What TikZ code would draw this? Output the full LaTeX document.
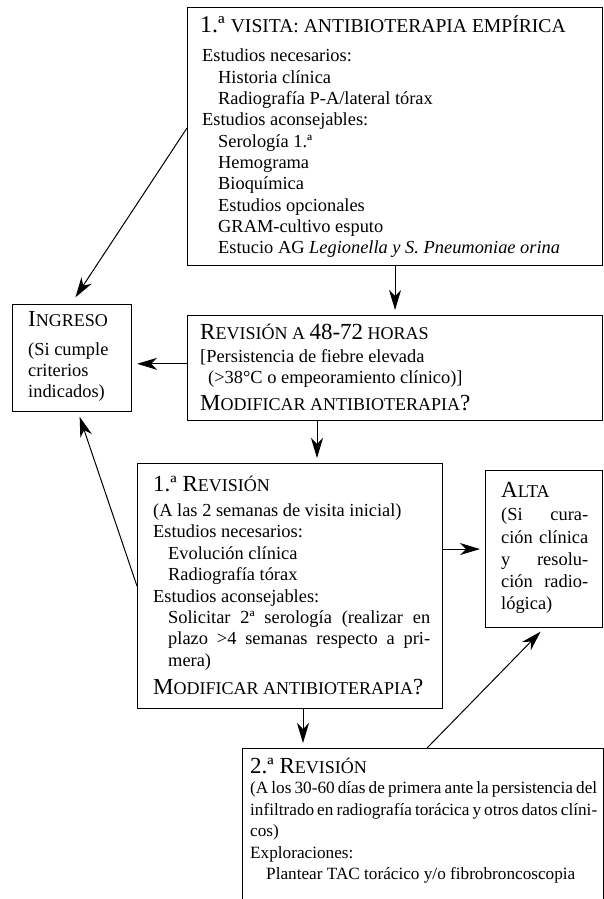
\documentclass[tikz,border=0pt]{standalone}
\usepackage{fontspec}
\setmainfont{Liberation Serif}
\usetikzlibrary{arrows.meta,calc}
\newcommand{\mybig}[1]{{\fontsize{23}{26}\selectfont #1}}
\newcommand{\mysc}[1]{{\fontsize{18}{21}\selectfont #1}}
\newcommand{\bodyfont}{\fontsize{18.4}{21.4}\selectfont}
\newcommand{\smallbody}{\fontsize{17.2}{21}\selectfont}
\newcommand{\jline}[2]{\makebox[#1][s]{#2}}
\newcommand{\tjline}[2]{{\spaceskip=0.25em plus 0.2em minus 0.1em\makebox[#1][s]{#2}}}
\begin{document}
\begin{tikzpicture}[x=1pt,y=-1pt,
  box/.style={draw, line width=1.1pt, inner sep=0pt, anchor=north west},
  txt/.style={anchor=base west, inner sep=0pt, font=\bodyfont},
  txte/.style={anchor=base west, inner sep=0pt, font=\smallbody},
  arr/.style={-{Stealth[length=20pt,width=12pt,inset=6pt]}, line width=1pt, shorten >=5pt}]
\useasboundingbox (0,0) rectangle (604,899);
\clip (0,0) rectangle (604,899);

% boxes
\node[box, minimum width=415pt, minimum height=258pt] (A) at (187,7) {};
\node[box, minimum width=415pt, minimum height=105pt] (B) at (187,315) {};
\node[box, minimum width=119pt, minimum height=107pt] (Ing) at (12,304) {};
\node[box, minimum width=305pt, minimum height=245pt] (C) at (137,463) {};
\node[box, minimum width=117pt, minimum height=157pt] (Alta) at (485,470) {};
\node[box, minimum width=361pt, minimum height=200pt] (E) at (242,748) {};

% box A text
\node[txt] (a0) at (200,32.5) {{\fontsize{24}{27}\selectfont 1.ª }{\fontsize{19.6}{22}\selectfont VISITA: ANTIBIOTERAPIA EMPÍRICA}};
\node[txt] (a1) at (202,62) {Estudios necesarios:};
\node[txt] (a2) at (218,83.3) {Historia clínica};
\node[txt] (a3) at (218,104.6) {Radiografía P-A/lateral tórax};
\node[txt] (a4) at (202,125.9) {Estudios aconsejables:};
\node[txt] (a5) at (218,147.2) {Serología 1.ª};
\node[txt] (a6) at (218,168.5) {Hemograma};
\node[txt] (a7) at (218,189.8) {Bioquímica};
\node[txt] (a8) at (218,211.1) {Estudios opcionales};
\node[txt] (a9) at (218,232.4) {GRAM-cultivo esputo};
\node[txt] (a10) at (218,253.7) {Estucio AG \textit{Legionella y S. Pneumoniae orina}};

% box B text
\node[txt] (b0) at (200,339) {\mybig{R}\mysc{EVISIÓN A }\mybig{48-72}\mysc{ HORAS}};
\node[txt] (b1) at (200,362) {[Persistencia de fiebre elevada};
\node[txt] (b2) at (208,383) {(>38°C o empeoramiento clínico)]};
\node[txt] (b3) at (200,410) {\mybig{M}\mysc{ODIFICAR ANTIBIOTERAPIA}\mybig{?}};

% Ingreso text
\node[txt] (i0) at (28,326) {\mybig{I}\mysc{NGRESO}};
\node[txt] (i1) at (28,355) {(Si cumple};
\node[txt] (i2) at (28,376) {criterios};
\node[txt] (i3) at (28,397) {indicados)};

% box C text
\node[txt] (c0) at (153,491) {\mybig{1.ª R}\mysc{EVISIÓN}};
\node[txt] (c1) at (153,516.5) {(A las 2 semanas de visita inicial)};
\node[txt] (c2) at (153,537.9) {Estudios necesarios:};
\node[txt] (c3) at (168,559.3) {Evolución clínica};
\node[txt] (c4) at (168,580.7) {Radiografía tórax};
\node[txt] (c5) at (153,602.1) {Estudios aconsejables:};
\node[txt] (c6) at (168,623.5) {\jline{262pt}{Solicitar 2ª serología (realizar en}};
\node[txt] (c7) at (168,644.9) {\jline{262pt}{plazo >4 semanas respecto a pri-}};
\node[txt] (c8) at (168,666.3) {mera)};
\node[txt] (c9) at (153,694) {\mybig{M}\mysc{ODIFICAR ANTIBIOTERAPIA}\mybig{?}};

% Alta text
\node[txt] (l0) at (501,497) {\mybig{A}\mysc{LTA}};
\node[txt] (l1) at (501,520.5) {\jline{87pt}{(Si cura-}};
\node[txt] (l2) at (501,543) {\jline{87pt}{ción clínica}};
\node[txt] (l3) at (501,565) {\jline{87pt}{y resolu-}};
\node[txt] (l4) at (501,587.5) {\jline{87pt}{ción radio-}};
\node[txt] (l5) at (501,609) {lógica)};

% box E text
\node[txt] (e0) at (250,773) {\mybig{2.ª R}\mysc{EVISIÓN}};
\node[txte] (e1) at (250,793.5) {\tjline{347pt}{(A los 30-60 días de primera ante la persistencia del}};
\node[txte] (e2) at (250,815) {\tjline{347pt}{infiltrado en radiografía torácica y otros datos clíni-}};
\node[txte] (e3) at (250,836.5) {cos)};
\node[txte] (e4) at (250,858) {Exploraciones:};
\node[txte] (e5) at (266,879.5) {Plantear TAC torácico y/o fibrobroncoscopia};

% connectors
\draw[arr] (A) -- (B);
\coordinate (bw) at ($(B.north west)!0.46!(B.south west)$);
\draw[arr] (bw) -- (bw -| Ing.east);
\coordinate (cx) at (317,0);
\draw[arr] (B.south -| cx) -- (C.north -| cx);
\draw[arr] (Alta.west -| C.east) -- (Alta.west);
\coordinate (ex) at (303,0);
\draw[arr] (C.south -| ex) -- (E.north -| ex);
\draw[arr] ([xshift=4pt]E.north) -- (Alta.south);
\draw[arr] (C.west) -- ([xshift=6pt]Ing.south);
\coordinate (aw) at ($(A.north west)+(0,121)$);
\draw[arr, shorten >=8pt] (aw) -- ([xshift=-1pt]Ing.north);
\end{tikzpicture}
\end{document}
